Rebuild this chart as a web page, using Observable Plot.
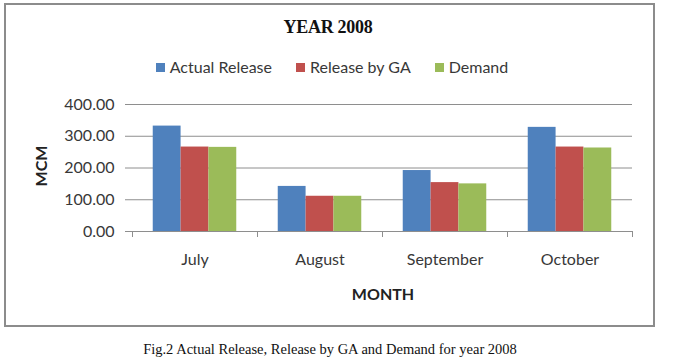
<!DOCTYPE html>
<html>
<head>
<meta charset="utf-8">
<script src="https://cdn.jsdelivr.net/npm/d3@7"></script>
<script src="https://cdn.jsdelivr.net/npm/@observablehq/plot@0.6"></script>
<style>
  html, body { margin: 0; padding: 0; background: #ffffff; }
  #wrap { position: relative; width: 690px; height: 362px; overflow: hidden; font-family: Lato, "Open Sans", sans-serif; color: #383838; }
  #frame { position: absolute; left: 4px; top: 3px; width: 651px; height: 324px; box-sizing: border-box; border: 2px solid #8c8c8c; }
  #chart { position: absolute; left: 0; top: 0; }
  .title { position: absolute; left: 228px; width: 200px; top: 18px; text-align: center; font-family: "Liberation Serif", "Times New Roman", serif; font-weight: bold; font-size: 18px; line-height: 18px; color: #111; letter-spacing: -0.3px; white-space: nowrap; }
  .legend { position: absolute; left: 0; width: 664px; top: 59px; display: flex; justify-content: center; gap: 24px; font-size: 16px; line-height: 16px; color: #383838; }
  .legend .item { display: flex; align-items: center; white-space: nowrap; }
  .legend .sw { width: 9px; height: 9px; margin-right: 5px; margin-top: 1px; }
  .ylabel { position: absolute; left: 40.5px; top: 166px; transform: translate(-50%, -50%) rotate(-90deg); font-weight: bold; font-size: 16px; line-height: 16px; white-space: nowrap; color: #222; }
  .xlabel { position: absolute; left: 283px; width: 200px; top: 286px; text-align: center; font-weight: bold; font-size: 16px; line-height: 16px; color: #222; }
  .caption { position: absolute; left: 130px; width: 400px; top: 342px; text-align: center; font-family: "Liberation Serif", "Times New Roman", serif; font-size: 14.5px; line-height: 14px; color: #111; white-space: nowrap; }
</style>
</head>
<body>
<div id="wrap">
  <div id="frame"></div>
  <div id="chart"></div>
  <div class="title" id="title"></div>
  <div class="legend" id="legend"></div>
  <div class="ylabel" id="ylabel"></div>
  <div class="xlabel" id="xlabel"></div>
  <div class="caption" id="caption"></div>
</div>
<script>
// ---- data ----
const months = ["July", "August", "September", "October"];
const series = ["Actual Release", "Release by GA", "Demand"];
const actualRelease = [332, 142, 192, 328];
const releaseByGA = [266, 111, 154, 266];
const demand = [265, 111, 150, 263];
const yTicks = [0, 100, 200, 300, 400];
const titleText = "YEAR 2008";
const yLabelText = "MCM";
const xLabelText = "MONTH";
const captionText = "Fig.2 Actual Release, Release by GA and Demand for year 2008";

const seriesColors = ["#4F81BD", "#C0504D", "#9BBB59"];
const seriesValues = [actualRelease, releaseByGA, demand];

const data = months.flatMap((m, i) =>
  series.map((s, j) => ({ month: m, series: s, value: seriesValues[j][i] }))
);

const gridColor = "#8e8e8e";

const plot = Plot.plot({
  width: 690,
  height: 362,
  marginLeft: 130,
  marginRight: 57,
  marginTop: 104,
  marginBottom: 131,
  style: { fontFamily: "Lato, 'Open Sans', sans-serif", fontSize: "16px", color: "#383838", background: "transparent", overflow: "visible" },
  fx: { domain: months, padding: 0, label: null },
  x: { domain: series, paddingInner: 0, paddingOuter: 0.745, axis: null, round: false },
  y: { domain: [0, 400], label: null },
  color: { domain: series, range: seriesColors },
  marks: [
    Plot.gridY(yTicks, { stroke: gridColor, strokeOpacity: 1, strokeWidth: 1 }),
    Plot.barY(data, { fx: "month", x: "series", y: "value", fill: "series" }),
    Plot.axisY(yTicks, {
      tickFormat: d3.format(".2f"),
      tickSize: 7,
      tickPadding: 11,
      stroke: gridColor,
      line: true,
      label: null,
      fontSize: 16
    }),
    Plot.axisFx({ anchor: "bottom", tickSize: 0, tickPadding: 22, label: null, fontSize: 16 })
  ]
});

document.getElementById("chart").appendChild(plot);

// category boundary ticks on the x axis, placed with Plot's own fx/y scales
const fx = plot.scale("fx");
const ys = plot.scale("y");
const bounds = months.map(m => fx.apply(m)).concat([fx.apply(months[months.length - 1]) + fx.bandwidth]);
const y0 = ys.apply(0);
d3.select(plot).append("g")
  .attr("stroke", gridColor)
  .selectAll("line")
  .data(bounds)
  .join("line")
  .attr("x1", d => Math.round(d) + 0.5)
  .attr("x2", d => Math.round(d) + 0.5)
  .attr("y1", y0)
  .attr("y2", y0 + 6);

// texts
document.getElementById("title").textContent = titleText;
document.getElementById("ylabel").textContent = yLabelText;
document.getElementById("xlabel").textContent = xLabelText;
document.getElementById("caption").textContent = captionText;

const legend = document.getElementById("legend");
series.forEach((s, i) => {
  const item = document.createElement("div");
  item.className = "item";
  const sw = document.createElement("span");
  sw.className = "sw";
  sw.style.background = seriesColors[i];
  const label = document.createElement("span");
  label.textContent = s;
  item.appendChild(sw);
  item.appendChild(label);
  legend.appendChild(item);
});
</script>
</body>
</html>
